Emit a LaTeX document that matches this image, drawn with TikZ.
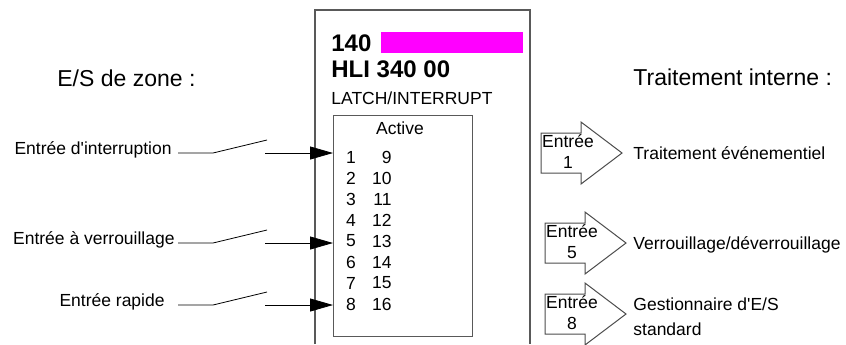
\documentclass[tikz,border=0pt]{standalone}
\usepackage{fontspec}
\setmainfont{Liberation Sans}
\usetikzlibrary{positioning,arrows.meta}
\definecolor{refpink}{RGB}{255,0,255}
\tikzset{
  lbl/.style={font=\fontsize{8.75}{10.5}\selectfont,inner sep=0pt},
  head/.style={font=\fontsize{11.5}{13}\selectfont,inner sep=0pt},
  bold/.style={font=\fontsize{12}{14}\selectfont\bfseries,inner sep=0pt},
  pin/.style={-{Triangle[length=11.5pt,width=6.5pt]}},
  frame/.style={draw=black!65,line width=0.6pt},
  blockarrow/.style={draw=black!70,line width=0.5pt}
}

\begin{document}
\begin{tikzpicture}[x=0.5pt,y=-0.5pt]
\useasboundingbox (0,0) rectangle (846,344);
\node (zone) [head,anchor=west] at (57,78) {E/S de zone :};
\node (proc) [head,anchor=west] at (633,77) {Traitement interne :};
% module
\draw [frame](315,344)--(315,10)--(530,10)--(530,344);
\fill [refpink] (381,32) rectangle (523,53);
\node (ref) [bold,anchor=west] at (331,43) {140};
\node (type) [bold,anchor=west] at (331,69) {HLI 340 00};
\node (mode) [lbl,anchor=west] at (331,98) {LATCH/INTERRUPT};
\node (active) [frame,inner sep=0pt,minimum width=69.5pt,minimum height=110.5pt,anchor=north west] at (333,115) {};
\node (act) [lbl] at (400,128) {Active};
\foreach \i in {1,...,8}{
  \pgfmathtruncatemacro\j{\i+8}
  \node (lo\i) [lbl] at (351,{157+21*(\i-1)}) {\i};
  \node (hi\i) [lbl,anchor=east] at (392,{157+21*(\i-1)}) {\j};
}
% inputs
\foreach \nm/\txt/\xe/\yl in {irq/Entrée d\textquotesingle interruption/172/153,latch/Entrée à verrouillage/175/243,fast/Entrée rapide/165/305}{
  \node (\nm) [lbl,anchor=east] at (\xe,\yl-3) {\txt};
  \coordinate (\nm s) at (178,\yl);
  \coordinate (\nm a) at (213,\yl);
  \coordinate (\nm b) at (267,\yl-13);
  \coordinate (\nm c) at (265,\yl);
  \draw (\nm s)--(\nm a)--(\nm b);
  \draw [pin](\nm c)--(\nm c -| active.west);
}
% block arrows
\foreach \nm/\xl/\yc/\n in {evt/541/153/1,lock/545/243/5,std/545/314/8}{
  \draw [blockarrow](\xl,\yc-20)--(\xl+40,\yc-20)--(\xl+40,\yc-31)--(\xl+81,\yc)
    --(\xl+40,\yc+31)--(\xl+40,\yc+20)--(\xl,\yc+20)--cycle;
  \node (\nm) [lbl,align=center] at (\xl+27,\yc-1) {Entrée\\\n};
}
\node (evtt) [lbl,anchor=west] at (633,153) {Traitement événementiel};
\node (lockt) [lbl,anchor=west] at (633,245) {Verrouillage/déverrouillage};
\node (stdt) [lbl,anchor=west,align=left,font=\fontsize{8.75}{12.5}\selectfont] at (633,317) {Gestionnaire d\textquotesingle E/S\\standard};
\end{tikzpicture}
\end{document}
